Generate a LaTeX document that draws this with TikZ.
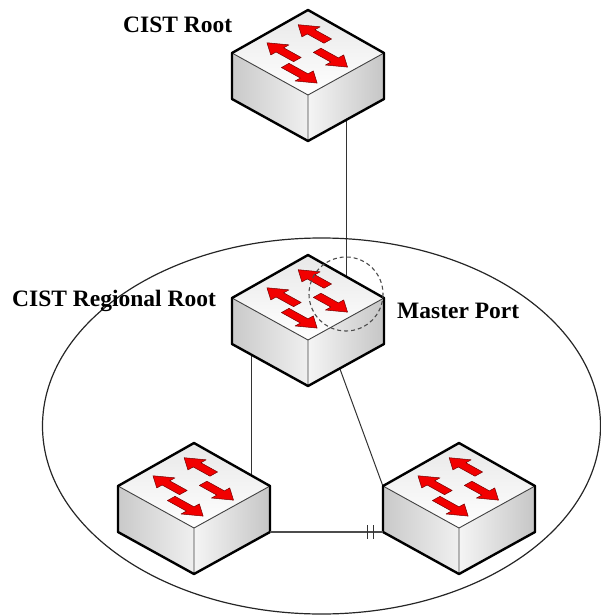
\documentclass[tikz,border=0pt]{standalone}
\usepackage{fontspec}
\setmainfont{Liberation Serif}
\usepackage{xcolor}
\usepackage{tikz}
\usetikzlibrary{calc}
\pgfdeclarelayer{background}
\pgfsetlayers{background,main}

\tikzset{
  link/.style={draw=black!80, line width=1bp},
  ring/.style={draw=black!85, line width=1.2bp},
  lbl/.style={font=\fontsize{23.5bp}{28bp}\selectfont\bfseries, inner sep=0pt},
  outer edge/.style={line width=2.4bp, line join=round},
  inner edge/.style={draw=black!75, line width=0.9bp},
  redarrow/.style={fill=red!95!black, draw=red!45!black, line width=0.5bp, line join=round},
  switch/.pic={
    \path[left color=gray!42, right color=gray!12] (-76,-42) -- (0,0) -- (0,46) -- (-76,4) -- cycle;
    \path[left color=gray!8, right color=gray!45] (0,0) -- (76,-42) -- (76,4) -- (0,46) -- cycle;
    \path[top color=gray!18, bottom color=white] (0,-85) -- (76,-42) -- (0,0) -- (-76,-42) -- cycle;
    \begin{scope}[shift={(0,-85)}, x={(76bp,-42bp)}, y={(-76bp,-42bp)}]
      \foreach \ta/\sa/\sb in {0.24/0.11/0.50, 0.66/0.12/0.52, 0.42/0.94/0.54, 0.81/0.93/0.51}{
        \pgfmathsetmacro\hb{\sa+0.17*sign(\sb-\sa)}
        \path[redarrow] (\sb,\ta-0.05) -- (\hb,\ta-0.05) -- (\hb,\ta-0.12) -- (\sa,\ta)
          -- (\hb,\ta+0.12) -- (\hb,\ta+0.05) -- (\sb,\ta+0.05) -- cycle;
      }
    \end{scope}
    \draw[inner edge] (-76,-42) -- (0,0) -- (76,-42) (0,0) -- (0,46);
    \draw[outer edge] (0,-85) -- (76,-42) -- (76,4) -- (0,46) -- (-76,4) -- (-76,-42) -- cycle;
    \coordinate (-n) at (38,-10);
    \coordinate (-w) at (-57,10);
    \coordinate (-e) at (57,-10);
    \coordinate (-se) at (25,10);
    \coordinate (-nw) at (-71,-28);
    \coordinate (-lb) at (-76,4);
    \coordinate (-rb) at (76,4);
    \coordinate (-port) at (38,-46);
  }
}

\begin{document}
\begin{tikzpicture}[x=1bp, y=-1bp]
\useasboundingbox (0,0) rectangle (601,616);

\draw[ring] (321.5,426) ellipse [x radius=279, y radius=188];

\path (308,95) pic (cistroot) {switch};
\path (308,340) pic (regroot) {switch};
\path (194,528) pic (leftsw) {switch};
\path (459,528) pic (rightsw) {switch};

% links go behind the switches
\begin{pgfonlayer}{background}
\draw[link] (cistroot-n) -- (regroot-n);
\draw[link] (regroot-w) -- (leftsw-e);
\draw[link] (regroot-se) -- (rightsw-nw);
\end{pgfonlayer}

\draw[link, line width=1.5bp, draw=black!70] (leftsw-rb) -- (rightsw-lb) coordinate[pos=0.885] (brk);
\draw[link] (brk) ++(-3,-7) -- ++(0,14) (brk) ++(3,-7) -- ++(0,14);

\draw[black!70, line width=1.1bp, dash pattern=on 4bp off 3bp] (regroot-port) circle (37);

\node[lbl, anchor=base west] (rootlbl) at (123,33) {CIST Root};
\node[lbl, anchor=base west] (reglbl) at (12,306) {CIST Regional Root};
\node[lbl, anchor=base west] (portlbl) at (397,318) {Master Port};

\end{tikzpicture}
\end{document}
